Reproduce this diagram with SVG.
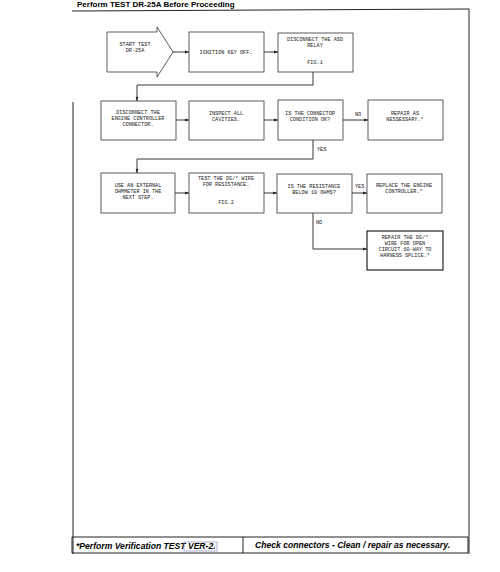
<svg xmlns="http://www.w3.org/2000/svg" width="500" height="572" viewBox="0 0 500 572">
<style>
.box{fill:#fff;stroke:#333;stroke-width:0.8}
.bold{fill:#fff;stroke:#111;stroke-width:1.1}
.t{font-family:"Liberation Mono","DejaVu Sans Mono",monospace;font-size:5.2px;fill:#222;text-anchor:middle}
.lbl{font-family:"Liberation Mono","DejaVu Sans Mono",monospace;font-size:5.2px;fill:#222}
.c{fill:none;stroke:#222;stroke-width:0.9}
.frame{fill:none;stroke:#222;stroke-width:1}
.hdr{font-family:"Liberation Sans",Arial,sans-serif;font-weight:bold;font-size:8px;fill:#000}
.ftr{font-family:"Liberation Sans",Arial,sans-serif;font-weight:bold;font-style:italic;font-size:8.6px;fill:#000}
</style>
<defs>
<marker id="ah" markerWidth="4" markerHeight="4" refX="4" refY="2" orient="auto" markerUnits="userSpaceOnUse">
<path d="M0,0.6 L4,2 L0,3.4 Z" fill="#222"/>
</marker>
</defs>
<rect width="500" height="572" fill="#fff"/>
<text class="hdr" x="77" y="7">Perform TEST DR-25A Before Proceeding</text>
<g id="frame">
<path class="frame" d="M72,11 L469,9 L469,554"/>
<path class="frame" d="M73,102 L73,554"/>
<path class="frame" d="M72,537 L468,537 L468,553 L72,553 Z"/>
<line class="frame" x1="243" y1="537" x2="243" y2="553"/>
<text class="ftr" x="76" y="549">*Perform Verification TEST VER-2.</text>
<rect x="184" y="542" width="33" height="9" fill="none" stroke="#7b7bb8" stroke-width="0.6"/>
<text class="ftr" x="255" y="548">Check connectors - Clean / repair as necessary.</text>
</g>
<g id="connectors">
<line class="c" x1="173" y1="52" x2="189" y2="52" marker-end="url(#ah)"/>
<line class="c" x1="264" y1="52" x2="278" y2="52" marker-end="url(#ah)"/>
<path class="c" d="M313,72 L313,85 L137,85 L137,101" marker-end="url(#ah)"/>
<line class="c" x1="176" y1="120" x2="189" y2="120" marker-end="url(#ah)"/>
<line class="c" x1="264" y1="120" x2="278" y2="120" marker-end="url(#ah)"/>
<line class="c" x1="343" y1="120" x2="368" y2="120" marker-end="url(#ah)"/>
<text class="lbl" x="355" y="116">NO</text>
<path class="c" d="M313,140 L313,159 L137,159 L137,173" marker-end="url(#ah)"/>
<text class="lbl" x="317" y="151">YES</text>
<line class="c" x1="175" y1="193" x2="189" y2="193" marker-end="url(#ah)"/>
<line class="c" x1="264" y1="193" x2="277" y2="193" marker-end="url(#ah)"/>
<line class="c" x1="352" y1="193" x2="367" y2="193" marker-end="url(#ah)"/>
<text class="lbl" x="355" y="188">YES</text>
<path class="c" d="M313,213 L313,249 L367,249" marker-end="url(#ah)"/>
<text class="lbl" x="316" y="224">NO</text>
</g>
<g id="start">
<path class="box" d="M107,32 L157,32 L157,27 L173,52 L157,77 L157,72 L107,72 Z"/>
<text class="t" x="135" y="46">START TEST</text>
<text class="t" x="135" y="52">DR-25A</text>
</g>
<g id="ignition">
<rect class="box" x="189" y="32" width="75" height="40"/>
<text class="t" x="226" y="54">IGNITION KEY OFF.</text>
</g>
<g id="asd">
<rect class="box" x="278" y="33" width="75" height="39"/>
<text class="t" x="315" y="41">DISCONNECT THE ASD</text>
<text class="t" x="315" y="47">RELAY</text>
<text class="t" x="315" y="64">FIG.1</text>
</g>
<g id="disconnect-ecc">
<rect class="box" x="101" y="101" width="75" height="39"/>
<text class="t" x="138" y="114">DISCONNECT THE</text>
<text class="t" x="138" y="120">ENGINE CONTROLLER</text>
<text class="t" x="138" y="126">CONNECTOR.</text>
</g>
<g id="inspect">
<rect class="box" x="189" y="101" width="75" height="39"/>
<text class="t" x="226" y="115">INSPECT ALL</text>
<text class="t" x="226" y="121">CAVITIES.</text>
</g>
<g id="connector-ok">
<rect class="box" x="278" y="100" width="65" height="40"/>
<text class="t" x="310" y="115">IS THE CONNECTOR</text>
<text class="t" x="310" y="121">CONDITION OK?</text>
</g>
<g id="repair1">
<rect class="box" x="368" y="100" width="75" height="40"/>
<text class="t" x="405" y="115">REPAIR AS</text>
<text class="t" x="405" y="121">NESSESSARY.*</text>
</g>
<g id="ohmmeter">
<rect class="box" x="101" y="173" width="74" height="40"/>
<text class="t" x="138" y="187">USE AN EXTERNAL</text>
<text class="t" x="138" y="193">OHMMETER IN THE</text>
<text class="t" x="138" y="199">NEXT STEP.</text>
</g>
<g id="test-dg">
<rect class="box" x="189" y="173" width="75" height="40"/>
<text class="t" x="226" y="180">TEST THE DG/* WIRE</text>
<text class="t" x="226" y="186">FOR RESISTANCE.</text>
<text class="t" x="226" y="204">FIG.2</text>
</g>
<g id="resistance">
<rect class="box" x="277" y="174" width="75" height="39"/>
<text class="t" x="314" y="188">IS THE RESISTANCE</text>
<text class="t" x="314" y="194">BELOW 10 OHMS?</text>
</g>
<g id="replace">
<rect class="box" x="367" y="174" width="75" height="39"/>
<text class="t" x="404" y="187">REPLACE THE ENGINE</text>
<text class="t" x="404" y="193">CONTROLLER.*</text>
</g>
<g id="repair2">
<rect class="bold" x="367" y="231" width="76" height="39"/>
<text class="t" x="405" y="239">REPAIR THE DG/*</text>
<text class="t" x="405" y="245">WIRE FOR OPEN</text>
<text class="t" x="405" y="251">CIRCUIT 60-WAY TO</text>
<text class="t" x="405" y="257">HARNESS SPLICE.*</text>
</g>
</svg>
